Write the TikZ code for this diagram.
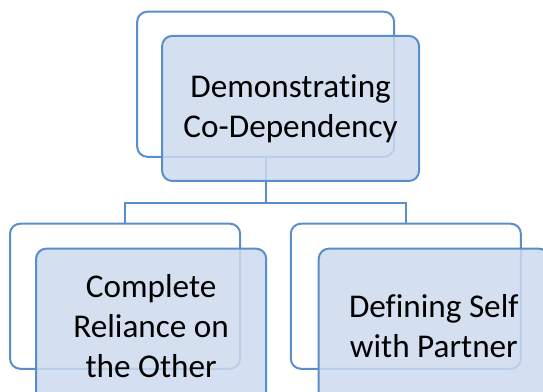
\documentclass[tikz,border=0pt]{standalone}
\usepackage{fontspec}
\setmainfont{Carlito}[Ligatures=NoCommon]
\usepackage{xcolor}
\usepackage{tikz}
\definecolor{boxline}{RGB}{88,142,203}
\definecolor{boxfill}{RGB}{205,218,238}
\tikzset{
	backbox/.style={draw=boxline, line width=1.5pt, fill=white, rounded corners=0.27cm, inner sep=0pt},
	frontbox/.style={draw=boxline, line width=1.5pt, fill=boxfill, fill opacity=0.85, text opacity=1, rounded corners=0.27cm, align=center, inner sep=0pt, font=\fontsize{25}{30}\selectfont},
	link/.style={draw=boxline, line width=1.5pt}
}

\begin{document}
\begin{tikzpicture}
	\useasboundingbox (0.00,0.00) rectangle (14.37,10.37);
	% back boxes
	\node[backbox, minimum width=6.80cm, minimum height=3.84cm] (topback) at (7.03,8.14) {};
	\node[backbox, minimum width=6.09cm, minimum height=3.84cm] (leftback) at (3.31,2.53) {};
	\node[backbox, minimum width=6.09cm, minimum height=3.84cm] (rightback) at (10.74,2.53) {};
	% connectors
	\coordinate (bus) at (7.03,5.00);
	\draw[link] (topback.south) -- (bus) -| (leftback.north);
	\draw[link] (bus) -| (rightback.north);
	% front boxes
	\node[frontbox, minimum width=6.80cm, minimum height=3.84cm] (topfront) at (7.69,7.50) {Demonstrating\\Co-Dependency};
	\node[frontbox, minimum width=6.09cm, minimum height=4.10cm] (leftfront) at (4.00,1.74) {Complete\\Reliance on\\the Other};
	\node[frontbox, minimum width=6.09cm, minimum height=4.10cm] (rightfront) at (11.48,1.74) {Defining Self\\with Partner};
\end{tikzpicture}
\end{document}
